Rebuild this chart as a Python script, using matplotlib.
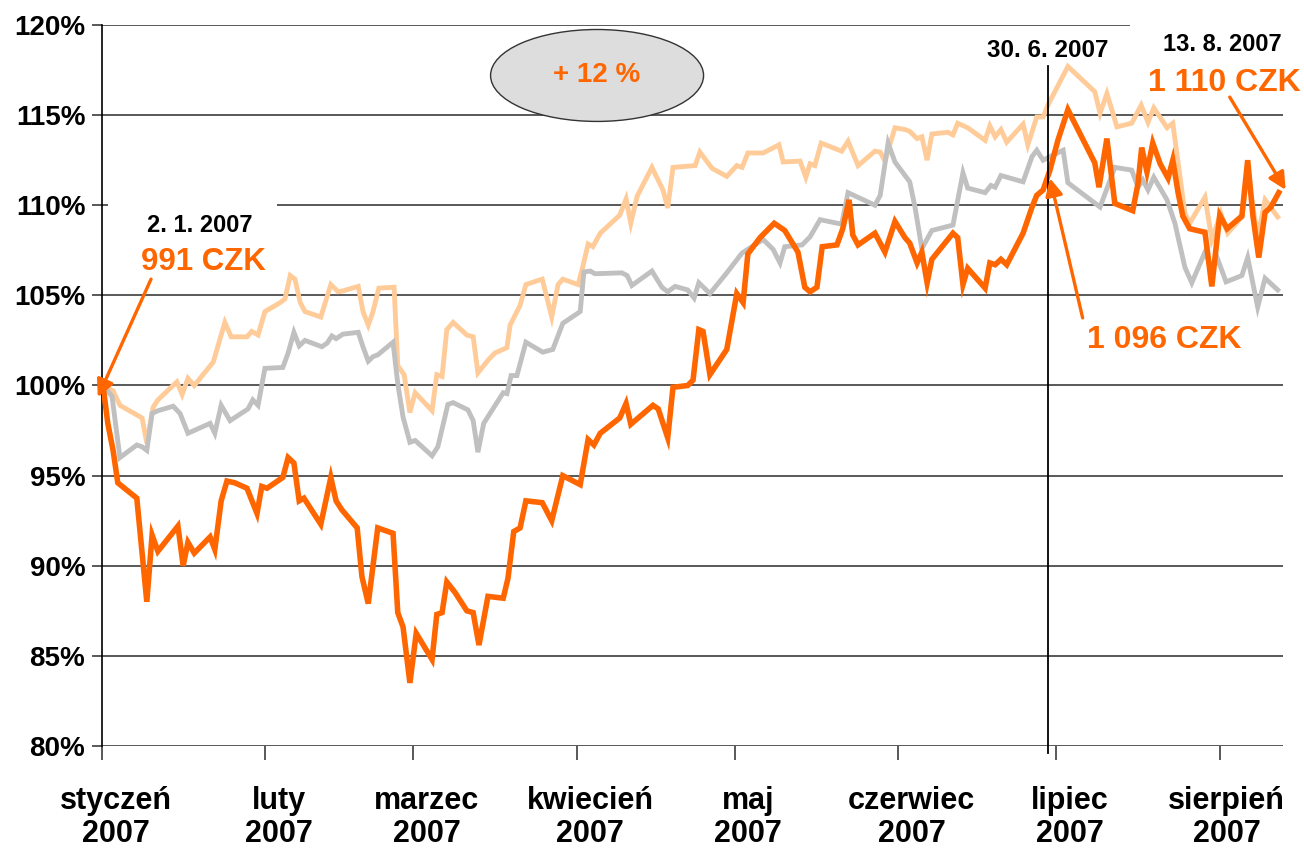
import matplotlib
matplotlib.use('Agg')
import matplotlib.pyplot as plt
import matplotlib.transforms as mtransforms
from matplotlib.patches import Ellipse, Rectangle

plt.rcParams['font.family'] = ['Liberation Sans', 'DejaVu Sans']
plt.rcParams['font.weight'] = 'bold'

# ---- data (x = days since 1 Jan 2007, y = % of starting value) ----
fund_days = [0.2, 1.1, 2.1, 3.0, 6.6, 8.5, 9.5, 10.6, 14.4, 15.4,
             16.3, 17.5, 20.5, 21.4, 22.6, 23.7, 25.2, 27.5, 29.4, 30.3,
             31.3, 34.3, 35.3, 36.4, 37.4, 38.3, 41.5, 43.4, 44.4, 45.5,
             48.4, 49.3, 50.5, 52.3, 55.2, 56.1, 57.1, 58.4, 59.6, 62.6,
             63.5, 64.5, 65.4, 67.0, 69.2, 70.4, 71.5, 73.2, 76.1, 77.0,
             78.1, 79.3, 80.4, 83.5, 85.3, 87.4, 90.7, 92.2, 93.3, 94.5,
             98.2, 99.4, 100.3, 101.7, 104.5, 105.5, 107.3, 108.3, 111.1, 112.1,
             113.2, 114.0, 115.3, 118.5, 120.4, 121.6, 122.5, 124.8, 127.5, 129.5,
             132.0, 133.3, 134.3, 135.6, 136.6, 139.4, 140.5, 141.7, 142.4, 143.4,
             146.6, 148.5, 150.4, 152.3, 153.2, 154.6, 155.5, 156.5, 157.4, 161.4,
             162.3, 163.3, 164.2, 167.5, 168.4, 169.4, 170.5, 171.6, 174.7, 176.4,
             177.3, 178.5, 179.8, 181.3, 183.2, 188.3, 189.1, 190.6, 192.1, 195.5,
             196.5, 197.2, 198.2, 199.3, 200.7, 202.2, 203.1, 204.1, 205.0, 206.3,
             209.2, 210.5, 212.0, 213.4, 216.2, 217.3, 218.3, 219.4, 220.6, 221.7,
             223.2]
fund_vals = [100.0, 97.9, 96.4, 94.6, 93.75, 88.0, 91.7, 90.8, 92.2, 90.0,
             91.3, 90.7, 91.6, 90.9, 93.6, 94.7, 94.6, 94.3, 92.9, 94.4,
             94.3, 94.9, 96.0, 95.7, 93.6, 93.75, 92.3, 94.9, 93.6, 93.1,
             92.1, 89.4, 87.9, 92.1, 91.8, 87.4, 86.6, 83.5, 86.25, 84.8,
             87.3, 87.4, 89.1, 88.5, 87.5, 87.4, 85.6, 88.3, 88.2, 89.3,
             91.9, 92.1, 93.6, 93.5, 92.5, 95.0, 94.5, 97.0, 96.7, 97.35,
             98.2, 99.0, 97.85, 98.2, 98.9, 98.7, 97.1, 99.9, 100.0, 100.3,
             103.1, 103.0, 100.6, 102.0, 105.1, 104.6, 107.3, 108.2, 109.0, 108.6,
             107.4, 105.45, 105.2, 105.45, 107.7, 107.8, 108.7, 110.3, 108.35, 107.8,
             108.45, 107.4, 109.1, 108.2, 107.9, 106.8, 107.4, 105.7, 107.0, 108.45,
             108.2, 105.6, 106.5, 105.4, 106.8, 106.7, 107.0, 106.7, 108.45, 109.9,
             110.55, 110.85, 111.95, 113.6, 115.3, 112.35, 111.0, 113.7, 110.1, 109.7,
             111.2, 113.2, 111.85, 113.45, 112.3, 111.5, 112.5, 110.7, 109.4, 108.7,
             108.5, 105.5, 109.45, 108.7, 109.4, 112.5, 109.4, 107.1, 109.6, 109.9,
             110.7]

peach_days = [0.2, 2.1, 3.4, 7.6, 8.5, 9.7, 10.6, 14.2, 15.2, 16.3,
              17.5, 21.1, 23.3, 24.5, 27.5, 28.4, 29.6, 30.9, 33.8, 34.7,
              35.7, 36.6, 37.6, 38.5, 41.5, 43.4, 44.8, 45.7, 48.6, 49.5,
              50.5, 51.4, 52.5, 55.4, 56.1, 57.3, 58.4, 59.4, 62.6, 63.5,
              64.5, 65.4, 66.6, 69.2, 70.4, 71.3, 73.2, 74.5, 76.8, 77.4,
              79.3, 80.4, 83.5, 85.3, 86.5, 87.4, 90.3, 91.2, 92.2, 93.1,
              94.5, 98.2, 99.4, 100.3, 101.5, 104.3, 106.4, 107.3, 108.3, 112.5,
              113.4, 115.7, 118.5, 120.4, 121.4, 122.5, 125.4, 128.4, 129.2, 132.4,
              133.5, 134.3, 135.2, 136.4, 140.3, 141.5, 143.4, 146.6, 147.6, 148.5,
              150.4, 152.3, 153.2, 154.6, 155.5, 156.5, 157.4, 160.4, 161.4, 162.3,
              164.2, 167.5, 168.4, 169.4, 170.5, 171.6, 174.7, 175.6, 177.3, 178.5,
              179.4, 183.2, 188.3, 189.3, 190.6, 192.5, 195.3, 197.1, 198.4, 199.5,
              202.0, 203.1, 205.4, 206.3, 209.2, 210.5, 212.2, 213.5, 216.2, 217.3,
              219.2, 220.6, 223.0]
peach_vals = [100.0, 99.7, 98.9, 98.2, 96.8, 98.8, 99.2, 100.2, 99.5, 100.4,
              100.0, 101.3, 103.5, 102.7, 102.7, 103.0, 102.8, 104.1, 104.6, 104.8,
              106.1, 105.9, 104.6, 104.1, 103.8, 105.6, 105.2, 105.25, 105.5, 104.1,
              103.35, 104.1, 105.4, 105.45, 101.1, 100.6, 98.5, 99.6, 98.6, 100.6,
              100.5, 103.1, 103.5, 102.8, 102.7, 100.7, 101.4, 101.8, 102.1, 103.35,
              104.45, 105.6, 105.9, 103.8, 105.6, 105.9, 105.6, 106.6, 107.85, 107.7,
              108.45, 109.45, 110.35, 109.0, 110.5, 112.1, 110.85, 109.85, 112.1, 112.2,
              112.95, 112.05, 111.6, 112.2, 112.1, 112.9, 112.9, 113.35, 112.4, 112.45,
              111.55, 112.3, 112.2, 113.45, 113.0, 113.55, 112.2, 113.0, 112.95, 112.45,
              114.3, 114.2, 114.1, 113.7, 113.8, 112.5, 113.95, 114.05, 113.9, 114.55,
              114.3, 113.6, 114.4, 113.8, 114.2, 113.5, 114.5, 113.35, 114.9, 114.9,
              115.55, 117.7, 116.3, 115.1, 116.2, 114.35, 114.55, 115.55, 114.6, 115.4,
              114.3, 114.55, 109.55, 109.0, 110.45, 108.1, 109.55, 108.45, 109.35, 111.8,
              108.2, 110.3, 109.35]

grey_days = [0.2, 1.9, 3.4, 6.6, 7.6, 8.5, 9.5, 10.6, 13.5, 14.8,
             16.3, 20.5, 21.4, 22.6, 24.3, 27.7, 28.6, 29.6, 30.9, 34.3,
             35.3, 36.4, 37.4, 38.5, 41.7, 42.7, 43.6, 44.4, 45.7, 48.6,
             49.5, 50.5, 51.4, 52.3, 55.2, 56.1, 57.1, 58.4, 59.4, 62.6,
             63.7, 65.6, 66.6, 69.4, 70.4, 71.3, 72.4, 76.1, 76.8, 77.6,
             78.7, 80.4, 83.6, 85.5, 87.4, 90.7, 91.4, 92.6, 93.5, 98.6,
             99.6, 100.5, 104.3, 106.2, 107.3, 108.7, 111.1, 112.3, 113.2, 115.3,
             118.5, 121.4, 125.4, 127.3, 128.6, 129.5, 132.8, 134.3, 136.2, 140.3,
             141.5, 146.6, 147.6, 149.1, 150.4, 153.2, 154.2, 155.5, 157.4, 161.4,
             163.3, 164.2, 167.5, 168.6, 169.4, 170.5, 174.7, 176.4, 177.3, 178.5,
             179.8, 182.3, 183.2, 189.3, 192.1, 195.3, 196.5, 197.4, 198.4, 199.5,
             202.0, 203.5, 205.4, 206.7, 209.2, 210.5, 211.5, 213.2, 216.2, 217.3,
             219.2, 220.6, 223.0]
grey_vals = [100.0, 99.4, 96.0, 96.7, 96.6, 96.4, 98.45, 98.6, 98.85, 98.45,
             97.35, 97.9, 97.35, 98.9, 98.05, 98.7, 99.2, 98.9, 100.95, 101.0,
             101.8, 102.95, 102.2, 102.5, 102.15, 102.35, 102.75, 102.6, 102.85, 102.95,
             102.15, 101.35, 101.6, 101.7, 102.4, 100.1, 98.25, 96.85, 96.95, 96.1,
             96.6, 98.95, 99.05, 98.65, 98.05, 96.3, 97.9, 99.6, 99.55, 100.55,
             100.55, 102.4, 101.85, 102.0, 103.45, 104.1, 106.3, 106.35, 106.2, 106.25,
             106.1, 105.55, 106.35, 105.45, 105.2, 105.5, 105.3, 104.85, 105.7, 105.1,
             106.25, 107.35, 108.1, 107.55, 106.8, 107.7, 107.8, 108.25, 109.2, 108.95,
             110.7, 110.0, 110.55, 113.45, 112.4, 111.3, 109.9, 107.6, 108.6, 108.9,
             111.8, 110.95, 110.7, 111.1, 111.0, 111.65, 111.3, 112.7, 113.05, 112.5,
             112.7, 113.05, 111.25, 109.9, 112.1, 111.95, 111.0, 111.4, 110.85, 111.55,
             110.3, 109.0, 106.55, 105.7, 107.4, 106.5, 107.1, 105.75, 106.1, 107.1,
             104.35, 105.95, 105.3]

month_starts = [0, 31, 59, 90, 120, 151, 181, 212]
month_labels = ['styczeń\n2007', 'luty\n2007', 'marzec\n2007', 'kwiecień\n2007',
                'maj\n2007', 'czerwiec\n2007', 'lipiec\n2007', 'sierpień\n2007']
y_ticks = [80, 85, 90, 95, 100, 105, 110, 115, 120]

ORANGE = '#FF6600'
PEACH = '#FFCC99'
GREY = '#C0C0C0'

fig = plt.figure(figsize=(13.04, 8.5), dpi=100)
ax = fig.add_axes([102 / 1304, 1 - 746 / 850, 1181 / 1304, 721 / 850])
ax.set_xlim(0, 224)
ax.set_ylim(80, 120)

for v in y_ticks:
    ax.axhline(v, color='#3c3c3c', lw=1.2, zorder=1)

ax.plot(peach_days, peach_vals, color=PEACH, lw=3.5, zorder=3, solid_joinstyle='miter')
ax.plot(grey_days, grey_vals, color=GREY, lw=3.5, zorder=4, solid_joinstyle='miter')
ax.plot(fund_days, fund_vals, color=ORANGE, lw=4.0, zorder=5, solid_joinstyle='miter')

# vertical marker at 30.6.2007
ax.plot([179.4, 179.4], [79.6, 117.7], color='black', lw=1.3, zorder=6, clip_on=False)

# white boxes behind annotation texts
ax.add_patch(Rectangle((1.1, 105.6), 32.0, 5.0, facecolor='white', edgecolor='none', zorder=2))
ax.add_patch(Rectangle((195.0, 116.0), 32.0, 5.0, facecolor='white', edgecolor='none',
                       zorder=2, clip_on=False))

# ellipse "+ 12 %"
ax.add_patch(Ellipse((93.9, 117.2), 40.4, 5.1, facecolor='#DDDDDD', edgecolor='#333333',
                     lw=1.0, zorder=6, clip_on=False))
ax.text(93.9, 117.2, '+ 12 %', color=ORANGE, fontsize=20, fontweight='bold',
        ha='center', va='center', zorder=7)

ax.text(18.6, 108.9, '2. 1. 2007', color='black', fontsize=17, fontweight='bold',
        ha='center', va='center', zorder=7)
ax.text(19.2, 106.85, '991 CZK', color=ORANGE, fontsize=22.5, fontweight='bold',
        ha='center', va='center', zorder=7)
ax.text(179.4, 118.6, '30. 6. 2007', color='black', fontsize=17.5, fontweight='bold',
        ha='center', va='center', zorder=7, clip_on=False)
ax.text(212.4, 118.9, '13. 8. 2007', color='black', fontsize=17, fontweight='bold',
        ha='center', va='center', zorder=7, clip_on=False)
ax.text(212.8, 116.8, '1 110 CZK', color=ORANGE, fontsize=23, fontweight='bold',
        ha='center', va='center', zorder=7, clip_on=False)
ax.text(201.4, 102.5, '1 096 CZK', color=ORANGE, fontsize=23, fontweight='bold',
        ha='center', va='center', zorder=7)

arrow_kw = dict(arrowstyle='-|>', color=ORANGE, lw=2.4, mutation_scale=26,
                shrinkA=0, shrinkB=0)
ax.annotate('', xy=(-0.8, 99.35), xytext=(9.3, 105.9), arrowprops=arrow_kw,
            zorder=8, annotation_clip=False)
ax.annotate('', xy=(179.8, 111.5), xytext=(186.0, 103.75), arrowprops=arrow_kw,
            zorder=8, annotation_clip=False)
ax.annotate('', xy=(224.5, 110.85), xytext=(213.9, 116.0), arrowprops=arrow_kw,
            zorder=8, annotation_clip=False)

# axes styling
for s in ['top', 'right', 'bottom']:
    ax.spines[s].set_visible(False)
ax.spines['left'].set_color('black')
ax.spines['left'].set_linewidth(1.2)

ax.set_yticks(y_ticks)
ax.set_yticklabels([f'{v}%' for v in y_ticks], fontsize=20, fontweight='bold')
ax.tick_params(axis='y', length=7, width=1.2, color='#3c3c3c', pad=5)

ax.set_xticks(month_starts)
ax.set_xticklabels([])
ax.tick_params(axis='x', which='major', length=10, width=1.2, color='#3c3c3c')

# month labels (two lines) below the axis
trans = mtransforms.blended_transform_factory(ax.transData, ax.transAxes)
label_pos = [m + 2.6 for m in month_starts[:-1]] + [month_starts[-1] + 1.3]
for xp, lab in zip(label_pos, month_labels):
    ax.text(xp, -40 / 721, lab, transform=trans, ha='center', va='top',
            fontsize=22, fontweight='bold', linespacing=1.12, clip_on=False)

fig.savefig('out.png', dpi=100, facecolor='white')
